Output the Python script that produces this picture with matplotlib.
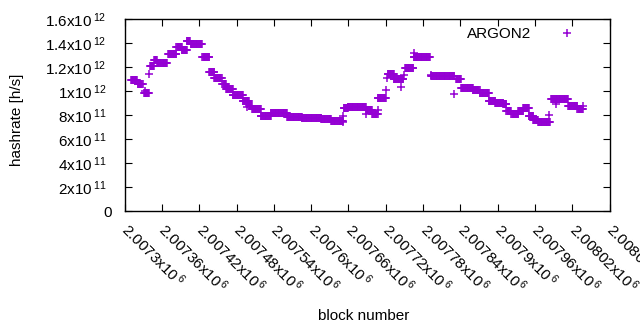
import numpy as np
import matplotlib
matplotlib.use("Agg")
import matplotlib.pyplot as plt
from matplotlib.ticker import FuncFormatter

plt.rcParams['font.family'] = ['Liberation Sans', 'DejaVu Sans']
plt.rcParams['mathtext.fontset'] = 'custom'
plt.rcParams['mathtext.rm'] = 'Liberation Sans'
plt.rcParams['mathtext.it'] = 'Liberation Sans'
plt.rcParams['mathtext.bf'] = 'Liberation Sans'
plt.rcParams['mathtext.default'] = 'regular'

# step runs of the hashrate estimate: first block, last block, hashrate [h/s]
seg_start = [2007310, 2007321, 2007331, 2007341, 2007347, 2007352, 2007370, 2007383,
             2007392, 2007400, 2007406, 2007425, 2007436, 2007444, 2007457, 2007463,
             2007474, 2007490, 2007500, 2007505, 2007519, 2007535, 2007561, 2007585,
             2007616, 2007632, 2007652, 2007659, 2007688, 2007698, 2007707, 2007723,
             2007733, 2007751, 2007765, 2007793, 2007833, 2007841, 2007860, 2007871,
             2007886, 2007896, 2007909, 2007914, 2007922, 2007933, 2007941, 2007950,
             2007957, 2007965, 2007986, 2007995, 2008013, 2008028]
seg_end = [2007320, 2007329, 2007339, 2007347, 2007352, 2007368, 2007383, 2007392,
           2007400, 2007405, 2007424, 2007436, 2007444, 2007456, 2007463, 2007474,
           2007490, 2007500, 2007505, 2007519, 2007535, 2007561, 2007585, 2007616,
           2007632, 2007651, 2007659, 2007688, 2007698, 2007707, 2007720, 2007733,
           2007748, 2007764, 2007791, 2007830, 2007841, 2007860, 2007871, 2007886,
           2007896, 2007909, 2007914, 2007921, 2007933, 2007941, 2007950, 2007957,
           2007965, 2007984, 2007994, 2008013, 2008028, 2008037]
seg_rate = [1.09e12, 1.06e12, 0.98e12, 1.21e12, 1.26e12, 1.23e12, 1.31e12, 1.37e12,
            1.34e12, 1.42e12, 1.39e12, 1.28e12, 1.16e12, 1.11e12, 1.06e12, 1.02e12,
            0.97e12, 0.92e12, 0.875e12, 0.85e12, 0.795e12, 0.817e12, 0.783e12, 0.775e12,
            0.767e12, 0.746e12, 0.86e12, 0.867e12, 0.845e12, 0.81e12, 0.94e12, 1.14e12,
            1.10e12, 1.19e12, 1.28e12, 1.125e12, 1.10e12, 1.025e12, 1.01e12, 0.98e12,
            0.913e12, 0.90e12, 0.89e12, 0.83e12, 0.81e12, 0.83e12, 0.86e12, 0.79e12,
            0.76e12, 0.745e12, 0.935e12, 0.935e12, 0.875e12, 0.85e12]

# isolated single blocks
odd_block = [2007332, 2007339, 2007497, 2007651, 2007651, 2007688, 2007707, 2007720,
             2007722, 2007744, 2007749, 2007765, 2007792, 2007830, 2007886, 2007982,
             2007994, 2008037]
odd_rate = [1.0e12, 1.14e12, 0.87e12, 0.79e12, 0.74e12, 0.81e12, 0.845e12, 1.01e12,
            1.11e12, 1.03e12, 1.13e12, 1.32e12, 1.13e12, 0.975e12, 0.915e12, 0.80e12,
            0.89e12, 0.875e12]

blocks = []
rates = []
for s, e, r in zip(seg_start, seg_end, seg_rate):
    for b in range(s, e + 1):
        blocks.append(b)
        rates.append(r)
blocks += odd_block
rates += odd_rate

purple = '#9400D3'

fig = plt.figure(figsize=(6.4, 3.3), dpi=100)
ax = fig.add_axes([0.1948, 0.3606, 0.7577, 0.5818])
ax.plot(blocks, rates, linestyle='none', marker='+', markersize=5.2,
        markeredgewidth=1.1, color=purple, label='ARGON2')

ax.set_xlim(2007300, 2008080)
ax.set_ylim(0, 1.6e12)
ax.set_xticks(np.arange(2007300, 2008081, 60))
ax.set_yticks(np.arange(0, 1.61e12, 2e11))


def xfmt(v, pos):
    return f"{v / 1e6:.6g}x10$\\,^{{6}}$"


def yfmt(v, pos):
    if v == 0:
        return "0"
    e = int(np.floor(np.log10(v) + 1e-9))
    m = v / 10 ** e
    return f"{m:.2g}x10$\\,^{{{e}}}$  "


ax.xaxis.set_major_formatter(FuncFormatter(xfmt))
ax.yaxis.set_major_formatter(FuncFormatter(yfmt))
ax.tick_params(direction='in', length=5, width=0.8, top=True, right=True,
               labelsize=11, colors='black')
ax.tick_params(axis='y', pad=9.5)
ax.tick_params(axis='x', pad=11)
for lbl in ax.get_xticklabels():
    lbl.set_rotation(-45)
    lbl.set_ha('left')
    lbl.set_va('center')
    lbl.set_rotation_mode('anchor')
for sp in ax.spines.values():
    sp.set_linewidth(1.0)

fig.text(17 / 640, 1 - 120 / 330, 'hashrate [h/s]', rotation=90, ha='center',
         va='center', fontsize=11)
fig.text(364 / 640, 1 - 316 / 330, 'block number', ha='center', va='center',
         fontsize=11)

ax.legend(loc='upper right', bbox_to_anchor=(0.943, 0.958), borderaxespad=0,
          borderpad=0, frameon=False, markerfirst=False, handlelength=2,
          handletextpad=1.3, fontsize=11)

fig.savefig('out.png', dpi=100)
